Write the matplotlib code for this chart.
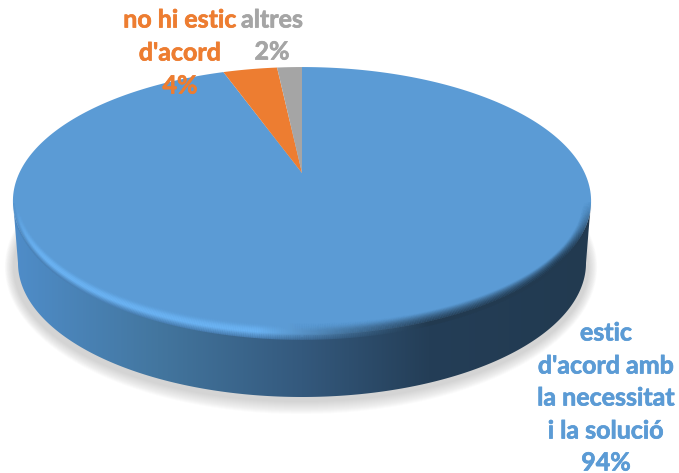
import numpy as np
import matplotlib
matplotlib.use('Agg')
import matplotlib.pyplot as plt
import matplotlib.patheffects as pe
from matplotlib.collections import LineCollection
from matplotlib.colors import LinearSegmentedColormap, to_rgb
from matplotlib.patches import Polygon

#===========================================================
#               data
#===========================================================
a_names = ['estic\nd\'acord amb\nla necessitat\ni la solució', 'no hi estic\nd\'acord', 'altres']
a_pct = ['94%', '4%', '2%']
# slice sizes (labels are rounded)
a_share = [94.6, 3.7, 1.7]
a_col = ['#5b9bd5', '#ed7d31', '#a5a5a5']

#===========================================================
#               parameters
#===========================================================
W, H = 679, 473
cx, cy = 302, 173     # apex of the slices, in pixels
k = 0.209             # perspective strength
sx, sy = 282.7, 128.1

def project(x, y):
    return cx + sx*x/(1 + k*y), cy - sy*y/(1 + k*y)

def ellipse(x0, y0, rx, ry, t):
    return x0 + rx*np.cos(t), y0 + ry*np.sin(t)

fig = plt.figure(figsize=(W/100, H/100), dpi=100)
ax = fig.add_axes([0, 0, 1, 1])
ax.axis('off')

#===========================================================
#               shadow
#===========================================================
t = np.linspace(0, 2*np.pi, 400)
for d in np.arange(13, 0, -1):
    xs, ys = ellipse(301, 267, 287 + d*.7, 134 + d, t)
    ax.fill(xs, ys, color='#707070', alpha=.022, lw=0, zorder=1)

#===========================================================
#               side wall with gradient
#===========================================================
t_low = np.linspace(np.pi, 0, 300)
x_b, y_b = ellipse(302, 263, 284, 134, t_low)
t_up = np.linspace(0, np.pi, 300)
x_t, y_t = ellipse(302, 201, 289, 134, t_up)
side = Polygon(np.c_[np.r_[x_b, x_t], np.r_[y_b, y_t]], closed=True, transform=ax.transData,
               fc='none', ec='none')
ax.add_patch(side)
cmap = LinearSegmentedColormap.from_list('side', [(0, '#4f8dc9'), (.25, '#43769f'), (.5, '#34597d'),
                                                  (.72, '#243e57'), (1, '#223a50')])
im = ax.imshow(np.linspace(0, 1, 256)[None, :], extent=(13, 591, 400, 60), cmap=cmap, aspect='auto', zorder=2)
im.set_clip_path(side)

#===========================================================
#               top face slices
#===========================================================
a_frac = np.cumsum([0] + a_share)/np.sum(a_share)
for i in range(len(a_share)):
    th = 2*np.pi*np.linspace(a_frac[i], a_frac[i+1], 300)
    px, py = project(np.sin(th), np.cos(th))
    ax.fill(np.r_[cx, px], np.r_[cy, py], color=a_col[i], lw=0, zorder=3)

#===========================================================
#               bevel along the front rim
#===========================================================
c_hi = np.array(to_rgb('#6ab2f2'))
c_edge = np.array(to_rgb('#4a80b4'))
c_lo = np.array(to_rgb('#223a50'))
t_rim = np.linspace(np.pi, 0, 500)
x_r, y_r = ellipse(302, 201, 289, 134, t_rim)
u = (x_r - 13)/578
fade = np.clip(np.sin(t_rim)*2.2, 0, 1)**1.5
mix = np.clip((u - .42)/.3, 0, 1)
for s in np.linspace(0, 1, 18):
    xs = 302 + (x_r - 302)*(1 - .03*s)
    ys = 201 + (y_r - 201)*(1.03 - .11*s)
    c_left = c_hi*min(s/.4, 1) + c_edge*(1 - min(s/.4, 1))
    rgb = np.outer(1 - mix, c_left) + np.outer(mix, c_lo)
    # left: bright band just inside the edge, right: dark edge fading inward
    a_left = np.exp(-(max(s - .4, 0)/.3)**2)
    a_right = (1 - s)**1.2
    col = np.c_[rgb, (a_left*(1 - mix) + a_right*mix)*fade]
    seg = np.stack([np.c_[xs[:-1], ys[:-1]], np.c_[xs[1:], ys[1:]]], axis=1)
    ax.add_collection(LineCollection(seg, colors=col[:-1], linewidths=1.2, zorder=4))

#===========================================================
#               labels
#===========================================================
font = dict(family='Lato', weight='bold', fontsize=18, ha='center', va='center', zorder=6)
a_lab = [(606, [333, 366, 398, 431, 463]), (180, [20, 53, 86]), (272, [20, 52])]
for i in range(3):
    a_lines = a_names[i].split('\n') + [a_pct[i]]
    for s_line, y in zip(a_lines, a_lab[i][1]):
        ax.text(a_lab[i][0], y, s_line, color=a_col[i],
                path_effects=[pe.withStroke(linewidth=.5, foreground=a_col[i])], **font)

ax.set_xlim(0, W)
ax.set_ylim(H, 0)
fig.savefig('out.png', dpi=100, facecolor='white')
